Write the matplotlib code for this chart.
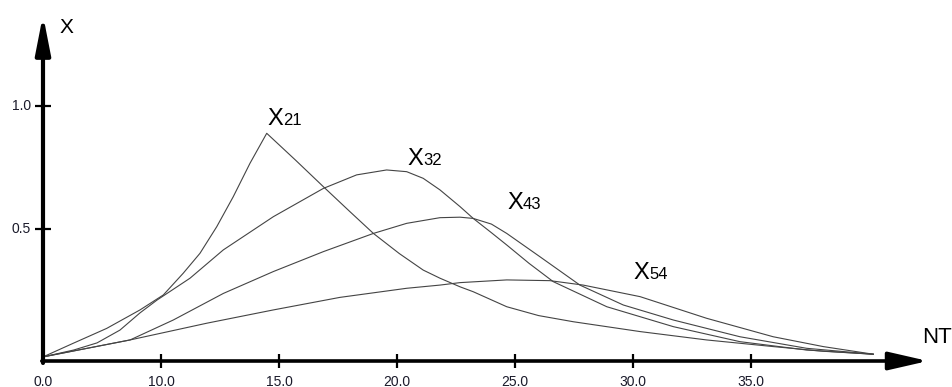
import matplotlib
matplotlib.use('Agg')
import matplotlib.pyplot as plt
from matplotlib.transforms import offset_copy

plt.rcParams['font.family'] = ['Liberation Sans', 'DejaVu Sans']

# ---- data ----
nt_21 = [5.0, 6.27, 7.70, 9.11, 10.1, 10.94, 11.65, 12.36, 13.06, 13.77, 14.48,
         15.7, 16.88, 18.0, 19.0, 20.1, 21.11, 21.82, 22.67, 23.23, 24.65, 26.0,
         27.47, 30.3, 33.12, 35.94, 38.06, 40.18]
x21   = [-0.02, 0.035, 0.096, 0.171, 0.232, 0.32, 0.401, 0.509, 0.631, 0.767, 0.889,
         0.78, 0.672, 0.571, 0.482, 0.40, 0.333, 0.30, 0.265, 0.245, 0.184, 0.148,
         0.123, 0.083, 0.049, 0.022, 0.003, -0.009]

nt_32 = [5.0, 6.3, 7.29, 8.26, 9.11, 9.83, 11.23, 12.64, 14.76, 16.88, 18.29,
         19.56, 20.41, 21.11, 21.82, 22.67, 23.23, 24.0, 24.65, 25.6, 26.62, 28.89, 31.71,
         34.53, 37.36, 40.18]
x32   = [-0.02, 0.008, 0.037, 0.089, 0.159, 0.211, 0.30, 0.415, 0.55, 0.665,
         0.72, 0.74, 0.733, 0.706, 0.659, 0.591, 0.543, 0.485, 0.435, 0.36, 0.286, 0.184, 0.103,
         0.042, 0.008, -0.009]

nt_43 = [5.0, 8.69, 10.52, 12.64, 14.76, 16.88, 19.0, 20.41, 21.82, 22.67, 23.23,
         24.0, 24.65, 26.06, 27.75, 29.59, 31.71, 34.53, 37.36, 40.18]
x43   = [-0.02, 0.049, 0.13, 0.238, 0.327, 0.408, 0.482, 0.523, 0.546, 0.548, 0.543,
         0.52, 0.482, 0.387, 0.272, 0.191, 0.13, 0.062, 0.015, -0.009]

nt_54 = [5.0, 8.69, 11.94, 14.76, 17.58, 20.41, 21.82, 22.67, 24.65, 26.48, 27.89,
         30.3, 33.12, 35.94, 38.06, 40.18]
x54   = [-0.02, 0.049, 0.117, 0.171, 0.222, 0.259, 0.272, 0.282, 0.293, 0.29, 0.272,
         0.225, 0.137, 0.062, 0.022, -0.009]

series = [(nt_21, x21, '21'), (nt_32, x32, '32'), (nt_43, x43, '43'), (nt_54, x54, '54')]

xtick_pos = [5, 10, 15, 20, 25, 30, 35]
xtick_labels = ['0.0', '10.0', '15.0', '20.0', '25.0', '30.0', '35.0']
ytick_pos = [0.5, 1.0]
ytick_labels = ['0.5', '1.0']

# label anchors (left/baseline of "X")
label_pos = {'21': (14.53, 0.923), '32': (20.46, 0.76), '43': (24.66, 0.582), '54': (30.04, 0.297)}

# ---- figure ----
fig = plt.figure(figsize=(9.52, 3.87), dpi=100)
ax = fig.add_axes([0, 0, 1, 1])
ax.set_xlim(3.178, 43.517)
ax.set_ylim(-0.1423, 1.4309)
ax.axis('off')

x0 = 5.0
y_axis = -0.0366

for nt, xv, name in series:
    ax.plot(nt, xv, color='#444444', lw=0.8, solid_joinstyle='round', antialiased=True)

# axes with arrows
ax.annotate('', xy=(42.5, y_axis), xytext=(x0 - 0.05, y_axis),
            arrowprops=dict(arrowstyle='-|>,head_length=2.4,head_width=0.55', lw=2.6,
                            color='black', mutation_scale=10, shrinkA=0, shrinkB=0))
ax.annotate('', xy=(x0, 1.37), xytext=(x0, y_axis - 0.008),
            arrowprops=dict(arrowstyle='-|>,head_length=2.3,head_width=0.45', lw=3.0,
                            color='black', mutation_scale=10, shrinkA=0, shrinkB=0))

# ticks
ax.vlines(xtick_pos[1:], y_axis - 0.03, y_axis + 0.03, color='black', lw=1.6)
ax.hlines(ytick_pos, x0 - 0.32, x0 + 0.32, color='black', lw=1.6)

for p, lab in zip(xtick_pos, xtick_labels):
    ax.text(p, -0.092, lab, ha='center', va='top', fontsize=10, color='#1a1a2a')
for p, lab in zip(ytick_pos, ytick_labels):
    ax.text(4.5, p, lab, ha='right', va='center', fontsize=10, color='#1a1a2a')

# axis titles
ax.text(5.68, 1.297, 'X', ha='left', va='baseline', fontsize=15, color='black')
ax.text(42.25, 0.0366, 'NT', ha='left', va='baseline', fontsize=16, color='black')

# curve labels
for name, (lx, ly) in label_pos.items():
    ax.text(lx, ly, 'X', ha='left', va='baseline', fontsize=17, color='black')
    tr = offset_copy(ax.transData, fig=fig, x=11.0, y=0, units='points')
    ax.text(lx, ly, name, ha='left', va='baseline', fontsize=12, color='black', transform=tr)

fig.savefig('out.png', dpi=100)
